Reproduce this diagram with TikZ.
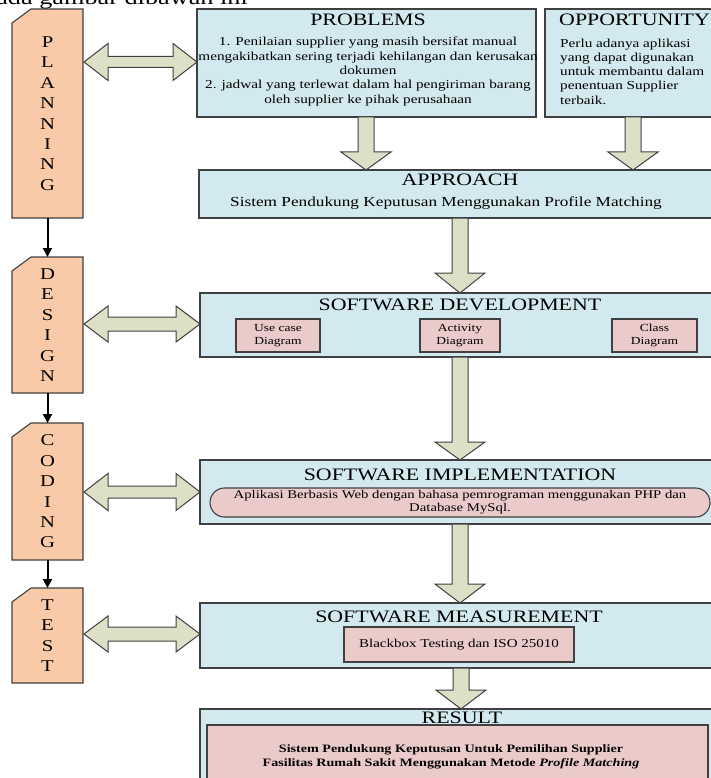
\documentclass[tikz,border=0pt]{standalone}
\usepackage{fontspec}
\setmainfont{Liberation Serif}[FakeStretch=1.25]
\usetikzlibrary{arrows.meta,backgrounds}
\definecolor{edge}{HTML}{404040}
\definecolor{boxblue}{HTML}{D2E9EF}
\definecolor{boxpink}{HTML}{EBCACA}
\definecolor{boxorange}{HTML}{F9CAA7}
\definecolor{arrowfill}{HTML}{DCE0C6}
\newcommand{\blockdown}[4]{%
  \draw[blockarrow] ({#1-8},#2) -- ({#1+8},#2) -- ({#1+8},#3) -- ({#1+25},#3) -- (#1,#4) -- ({#1-25},#3) -- ({#1-8},#3) -- cycle;}
\newcommand{\blockdouble}[5]{%
  \draw[blockarrow] (#1,#3) -- ({#1+24},{#3-#5}) -- ({#1+24},{#3-#4}) -- ({#2-24},{#3-#4}) -- ({#2-24},{#3-#5}) -- (#2,#3) -- ({#2-24},{#3+#5}) -- ({#2-24},{#3+#4}) -- ({#1+24},{#3+#4}) -- ({#1+24},{#3+#5}) -- cycle;}
\begin{document}
\begin{tikzpicture}[x=1pt,y=-1pt,
  bluebox/.style={draw=edge,fill=boxblue,line width=1.1pt,outer sep=0pt,inner sep=0pt},
  pinkbox/.style={draw=edge,fill=boxpink,line width=1.1pt,outer sep=0pt,inner sep=0pt},
  orangebox/.style={draw=edge,fill=boxorange,line width=1.1pt},
  leftbox/.style={minimum width=71pt,outer sep=0pt,inner sep=0pt,align=center,font=\fontsize{16.5}{20.4}\selectfont},
  blockarrow/.style={draw=edge,fill=arrowfill,line width=1pt,line join=miter},
  title/.style={inner sep=0pt,font=\fontsize{17.5}{20}\selectfont},
  body/.style={inner sep=0pt,align=center,font=\fontsize{12.2}{14.3}\selectfont},
  small/.style={align=center,font=\fontsize{10.8}{13}\selectfont},
  flowarrow/.style={-{Triangle[length=9pt,width=9pt]},line width=2pt,black}]
\useasboundingbox (0,0) rectangle (711,778);

% caption remnant (cut at the top edge, as in the reference)
\node[inner sep=0pt,anchor=base east,font=\fontsize{21}{24}\selectfont] (caption) at (248,5) {ada gambar dibawah ini};

% left phase boxes
\node[leftbox,minimum height=209pt] (plan) at (47.5,113.5) {P\\L\\A\\N\\N\\I\\N\\G};
\node[leftbox,minimum height=136pt] (design) at (47.5,325) {D\\E\\S\\I\\G\\N};
\node[leftbox,minimum height=137pt] (coding) at (47.5,491.5) {C\\O\\D\\I\\N\\G};
\node[leftbox,minimum height=95pt] (test) at (47.5,635.5) {T\\E\\S\\T};
\begin{pgfonlayer}{background}
\foreach \n in {plan,design,coding,test}{
  \draw[orangebox] ([yshift=-14pt]\n.north west) -- ([xshift=19pt]\n.north west) -- (\n.north east) -- (\n.south east) -- (\n.south west) -- cycle;}
\end{pgfonlayer}
\draw[flowarrow] (plan) -- (design);
\draw[flowarrow] (design) -- (coding);
\draw[flowarrow] (coding) -- (test);

% main boxes
\node[bluebox,anchor=north west,minimum width=339pt,minimum height=108pt] (problems) at (197,9) {};
\node[bluebox,anchor=north west,minimum width=170pt,minimum height=108pt] (opportunity) at (545,9) {};
\node[bluebox,anchor=north west,minimum width=515pt,minimum height=48pt] (approach) at (199,170) {};
\node[bluebox,anchor=north west,minimum width=515pt,minimum height=64pt] (swdev) at (200,293) {};
\node[bluebox,anchor=north west,minimum width=515pt,minimum height=64pt] (swimpl) at (200,460) {};
\node[bluebox,anchor=north west,minimum width=515pt,minimum height=65pt] (swmeas) at (200,603) {};
\node[bluebox,anchor=north west,minimum width=515pt,minimum height=90pt] (result) at (200,709) {};

% inner boxes
\node[pinkbox,small,minimum width=84pt,minimum height=33pt] (usecase) at (278,335.5) {Use case\\Diagram};
\node[pinkbox,small,minimum width=80pt,minimum height=33pt] (activity) at (460,335.5) {Activity\\Diagram};
\node[pinkbox,small,minimum width=85pt,minimum height=33pt] (class) at (654.5,335.5) {Class\\Diagram};
\node[pinkbox,rounded corners=14.5pt,minimum width=500pt,minimum height=29pt,align=center,font=\fontsize{11.8}{13}\selectfont] (webapp) at (460,502.5) {Aplikasi Berbasis Web dengan bahasa pemrograman menggunakan PHP dan\\Database MySql.};
\node[pinkbox,minimum width=230pt,minimum height=35pt,font=\fontsize{12}{14}\selectfont] (blackbox) at (459,644.5) {Blackbox Testing dan ISO 25010};
\node[pinkbox,anchor=north west,minimum width=501pt,minimum height=70pt] (resultin) at (207,725) {};

% block arrows
\blockdouble{84}{197}{62}{5.5}{18.5}
\blockdouble{84}{200}{324}{7}{18}
\blockdouble{84}{200}{492}{6}{18.5}
\blockdouble{84}{200}{634}{7}{18}
\blockdown{366}{117}{152}{170}
\blockdown{633}{117}{152}{170}
\blockdown{460}{218}{273}{293}
\blockdown{460}{357}{442}{460}
\blockdown{460}{524}{584}{603}
\blockdown{461}{668}{690}{709}

% texts
\node[title] (tprob) at (368,20) {PROBLEMS};
\node[body] (bprob) at (368,71.5) {1. Penilaian supplier yang masih bersifat manual\\mengakibatkan sering terjadi kehilangan dan kerusakan\\dokumen\\2. jadwal yang terlewat dalam hal pengiriman barang\\oleh supplier ke pihak perusahaan};
\node[title,anchor=west] (topp) at (559,20) {OPPORTUNITY};
\node[body,align=left,anchor=west] (bopp) at (560,71.5) {Perlu adanya aplikasi\\yang dapat digunakan\\untuk membantu dalam\\penentuan Supplier\\terbaik.};
\node[title] (tappr) at (460,180) {APPROACH};
\node[inner sep=0pt,font=\fontsize{13.8}{16}\selectfont] (bappr) at (446,203) {Sistem Pendukung Keputusan Menggunakan Profile Matching};
\node[title] (tdev) at (460,305) {SOFTWARE DEVELOPMENT};
\node[title] (timpl) at (460,475) {SOFTWARE IMPLEMENTATION};
\node[title] (tmeas) at (459,617) {SOFTWARE MEASUREMENT};
\node[title] (tres) at (462,718) {RESULT};
\node[inner sep=0pt,align=center,font=\bfseries\fontsize{11.3}{14}\selectfont] (bres) at (451,757) {Sistem Pendukung Keputusan Untuk Pemilihan Supplier\\Fasilitas Rumah Sakit Menggunakan Metode \textit{Profile Matching}};
\end{tikzpicture}
\end{document}
